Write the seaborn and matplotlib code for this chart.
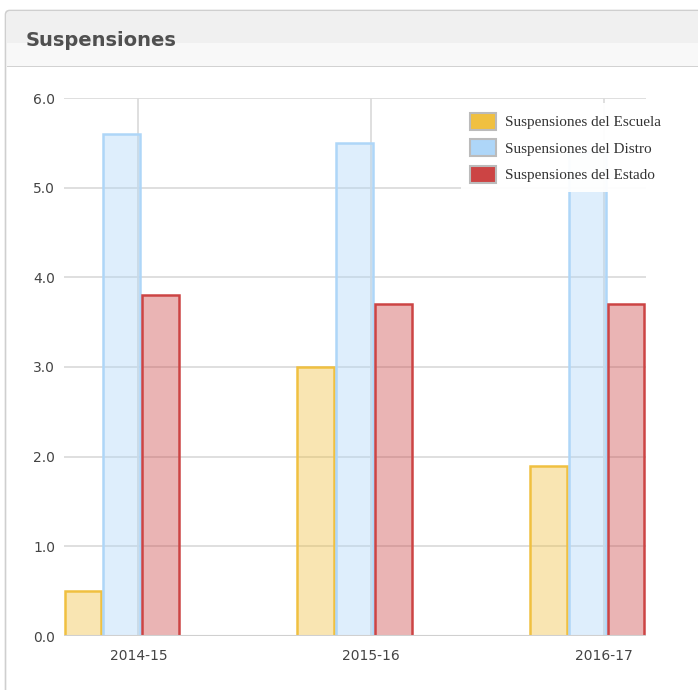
import numpy as np
import pandas as pd
import seaborn as sns
import matplotlib.pyplot as plt
from matplotlib.patches import FancyBboxPatch, Rectangle, Patch
from matplotlib.colors import to_rgba

# Data
years = ['2014-15', '2015-16', '2016-17']
series_names = ['Suspensiones del Escuela', 'Suspensiones del Distro', 'Suspensiones del Estado']
escuela = [0.5, 3.0, 1.9]
distro = [5.6, 5.5, 5.4]
estado = [3.8, 3.7, 3.7]
y_ticks = [0.0, 1.0, 2.0, 3.0, 4.0, 5.0, 6.0]

colors = ['#F0C040', '#AED6F8', '#CC4444']

df = pd.DataFrame({
    'year': years * 3,
    'serie': np.repeat(series_names, len(years)),
    'value': escuela + distro + estado,
})

sns.set_style('white')
plt.rcParams['font.family'] = ['DejaVu Sans']

W, H = 698, 690
fig = plt.figure(figsize=(W / 100, H / 100), dpi=100)

# Panel frame + header
panel = FancyBboxPatch((5.5 / W, -0.05), 1.1, (H - 10.5) / H + 0.05,
                       boxstyle='round,pad=0,rounding_size=0.006',
                       transform=fig.transFigure, facecolor='white',
                       edgecolor='#CFCFCF', linewidth=1.2, zorder=0)
fig.patches.append(panel)
fig.patches.append(Rectangle((6.5 / W, 1 - 43 / H), 1, 31 / H, transform=fig.transFigure,
                             facecolor='#F0F0F0', edgecolor='none', zorder=1))
fig.patches.append(Rectangle((6.5 / W, 1 - 66 / H), 1, 23 / H, transform=fig.transFigure,
                             facecolor='#F8F8F8', edgecolor='none', zorder=1))
fig.patches.append(Rectangle((6.5 / W, 1 - 67 / H), 1, 1.2 / H, transform=fig.transFigure,
                             facecolor='#D2D2D2', edgecolor='none', zorder=1))
fig.text(26 / W, 1 - 40 / H, 'Suspensiones', fontsize=14, fontweight='bold',
         color='#505050', va='center', ha='left', zorder=3)

ax = fig.add_axes([63.5 / W, 1 - 636 / H, 582 / W, 538 / H])
ax.set_zorder(2)
ax.patch.set_alpha(0)
sns.barplot(data=df, x='year', y='value', hue='serie', hue_order=series_names,
            palette=colors, width=0.5, gap=0.06, ax=ax, legend=False, zorder=3)

# light translucent fill, solid edge
for bars, c in zip(ax.containers, colors):
    for p in bars:
        p.set_facecolor(to_rgba(c, 0.4))
        p.set_edgecolor(c)
        p.set_linewidth(1.8)

ax.set_xlim(-0.25, 2.25)
ax.set_ylim(0, 6)
ax.set_yticks(y_ticks)
ax.set_yticklabels([f'{v:.1f}' for v in y_ticks])
tick_shift = 0.072
ax.set_xticks(np.arange(len(years)) + tick_shift)
ax.set_xticklabels(years)
ax.set_xlabel('')
ax.set_ylabel('')
ax.grid(True, color='#DCDCDC', linewidth=1.3, zorder=0)
ax.set_axisbelow(True)
for s in ax.spines.values():
    s.set_visible(False)
ax.axhline(0, color='#D0D0D0', linewidth=1.5, zorder=4)
ax.tick_params(axis='both', length=0, colors='#444444')
ax.tick_params(axis='y', pad=6)
ax.tick_params(axis='x', pad=9)
for lbl in ax.get_xticklabels() + ax.get_yticklabels():
    lbl.set_fontsize(10)

handles = [Patch(facecolor=c, edgecolor='#BBBBBB', linewidth=1.5) for c in colors]
leg = ax.legend(handles, series_names, loc='upper left', bbox_to_anchor=(0.683, 0.99),
                frameon=True, fancybox=False, framealpha=0.95, edgecolor='none',
                prop={'family': 'Liberation Serif', 'size': 11}, handlelength=1.7,
                handleheight=1.35, labelspacing=0.62, handletextpad=0.6, borderpad=0.6,
                borderaxespad=0)
leg.set_zorder(5)
for t in leg.get_texts():
    t.set_color('#333333')

fig.savefig('out.png', dpi=100)
